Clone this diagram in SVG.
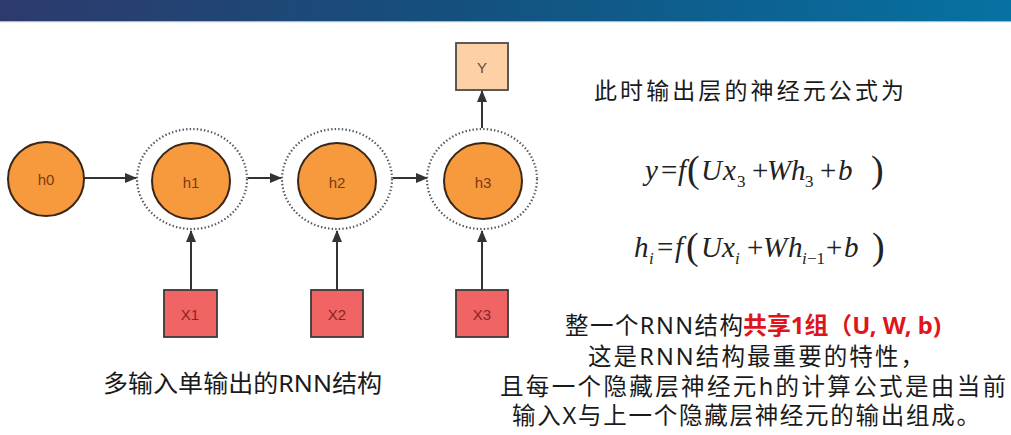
<svg xmlns="http://www.w3.org/2000/svg" width="1011" height="435" viewBox="0 0 1011 435">
<defs>
<linearGradient id="hdr" x1="0" y1="0" x2="1" y2="0">
<stop offset="0" stop-color="#2d3a6c"/>
<stop offset="0.45" stop-color="#14507e"/>
<stop offset="1" stop-color="#0672a2"/>
</linearGradient>
<marker id="ah" viewBox="0 0 12 10" refX="11" refY="5" markerWidth="12" markerHeight="10" markerUnits="userSpaceOnUse" orient="auto">
<path d="M0,0 L12,5 L0,10 Z" fill="#333"/>
</marker>
<style>
.cell{fill:#f79a3e;stroke:#3a2616;stroke-width:2}
.ring{fill:none;stroke:#555;stroke-width:2.2;stroke-dasharray:1.4 2.2}
.xbox{fill:#f06464;stroke:#3a3a3a;stroke-width:1.8}
.ybox{fill:#fdd0a6;stroke:#4a4a4a;stroke-width:1.8}
.lbl{font-family:"Liberation Sans",Arial,sans-serif;font-size:15px;text-anchor:middle;dominant-baseline:central}
.hl{fill:#7a3a12}
.xl{fill:#8a2424}
.yl{fill:#6a4a30}
.conn{stroke:#333;stroke-width:2;fill:none;marker-end:url(#ah)}
.cn{font-family:"Noto Sans","Noto Sans CJK SC",sans-serif;font-size:23.5px;fill:#1a1a1a}
.cnt{font-family:"Noto Sans CJK SC","Noto Sans",sans-serif;font-size:23px;fill:#1a1a1a}
.red{font-family:"Noto Sans","Noto Sans CJK SC",sans-serif;font-size:23.5px;fill:#e0141c;font-weight:bold}
.m{font-family:"Liberation Serif","Times New Roman",serif;font-style:italic;font-size:29px;fill:#222}
.mu{font-family:"Liberation Serif","Times New Roman",serif;font-size:29px;fill:#222}
.sub{font-family:"Liberation Serif","Times New Roman",serif;font-style:italic;font-size:17px;fill:#222}
.sup{font-family:"Liberation Serif","Times New Roman",serif;font-size:17px;fill:#222}
.par{font-family:"Liberation Serif","Times New Roman",serif;font-size:38px;fill:#222}
</style>
</defs>
<rect x="0" y="0" width="1011" height="21" fill="url(#hdr)"/>
<rect x="0" y="21" width="1011" height="1.2" fill="#9fbcd4"/>

<g id="connectors">
<line class="conn" x1="84" y1="178" x2="136" y2="178"/>
<line class="conn" x1="248" y1="178" x2="281" y2="178"/>
<line class="conn" x1="393" y1="178" x2="427" y2="178"/>
<line class="conn" x1="191" y1="290" x2="191" y2="231"/>
<line class="conn" x1="337" y1="290" x2="337" y2="231"/>
<line class="conn" x1="482" y1="290" x2="482" y2="231"/>
<line class="conn" x1="482" y1="128" x2="482" y2="91"/>
</g>

<g id="h0">
<ellipse class="cell" cx="46" cy="179" rx="38" ry="37"/>
<text class="lbl hl" x="46" y="179">h0</text>
</g>
<g id="h1">
<ellipse class="ring" cx="192" cy="179" rx="55" ry="50"/>
<ellipse class="cell" cx="191" cy="181" rx="39" ry="38"/>
<text class="lbl hl" x="191" y="182">h1</text>
</g>
<g id="h2">
<ellipse class="ring" cx="337" cy="179" rx="55" ry="50"/>
<ellipse class="cell" cx="337" cy="181" rx="39" ry="38"/>
<text class="lbl hl" x="337" y="182">h2</text>
</g>
<g id="h3">
<ellipse class="ring" cx="482" cy="179" rx="55" ry="50"/>
<ellipse class="cell" cx="483" cy="181" rx="39" ry="38"/>
<text class="lbl hl" x="483" y="182">h3</text>
</g>
<g id="Y">
<rect class="ybox" x="456" y="43" width="52" height="47"/>
<text class="lbl yl" x="482" y="67">Y</text>
</g>
<g id="X1">
<rect class="xbox" x="164" y="290" width="53" height="47"/>
<text class="lbl xl" x="190" y="314">X1</text>
</g>
<g id="X2">
<rect class="xbox" x="311" y="290" width="52" height="47"/>
<text class="lbl xl" x="337" y="314">X2</text>
</g>
<g id="X3">
<rect class="xbox" x="456" y="290" width="52" height="47"/>
<text class="lbl xl" x="482" y="314">X3</text>
</g>

<text class="cn" x="103" y="392" textLength="279" lengthAdjust="spacingAndGlyphs">多输入单输出的RNN结构</text>

<text class="cnt" x="594" y="99" textLength="310" lengthAdjust="spacing">此时输出层的神经元公式为</text>

<g id="formula1">
<text class="m" x="645" y="180">y</text>
<text class="mu" x="661" y="180">=</text>
<text class="m" x="678" y="180">f</text>
<text class="par" x="687" y="182">(</text>
<text class="m" x="701" y="180">U</text>
<text class="m" x="723" y="180">x</text>
<text class="sup" x="737" y="187">3</text>
<text class="mu" x="752" y="180">+</text>
<text class="m" x="767" y="180">W</text>
<text class="m" x="791" y="180">h</text>
<text class="sup" x="805" y="187">3</text>
<text class="mu" x="820" y="180">+</text>
<text class="m" x="838" y="180">b</text>
<text class="par" x="871" y="182">)</text>
</g>
<g id="formula2">
<text class="m" x="634" y="257">h</text>
<text class="sub" x="649" y="264">i</text>
<text class="mu" x="657" y="257">=</text>
<text class="m" x="675" y="257">f</text>
<text class="par" x="686" y="259">(</text>
<text class="m" x="701" y="257">U</text>
<text class="m" x="722" y="257">x</text>
<text class="sub" x="735" y="264">i</text>
<text class="mu" x="747" y="257">+</text>
<text class="m" x="763" y="257">W</text>
<text class="m" x="788" y="257">h</text>
<text class="sub" x="802" y="264">i</text>
<text class="sup" x="807" y="264">−1</text>
<text class="mu" x="826" y="257">+</text>
<text class="m" x="844" y="257">b</text>
<text class="par" x="872" y="259">)</text>
</g>

<text class="cn" x="565" y="334" textLength="178" lengthAdjust="spacing">整一个RNN结构</text>
<text class="red" x="743" y="334" textLength="198" lengthAdjust="spacingAndGlyphs">共享1组（U, W, b)</text>
<text class="cn" x="588" y="365" textLength="336" lengthAdjust="spacing">这是RNN结构最重要的特性，</text>
<text class="cn" x="500" y="395" textLength="506" lengthAdjust="spacing">且每一个隐藏层神经元h的计算公式是由当前</text>
<text class="cn" x="512" y="424" textLength="468" lengthAdjust="spacing">输入X与上一个隐藏层神经元的输出组成。</text>
</svg>
